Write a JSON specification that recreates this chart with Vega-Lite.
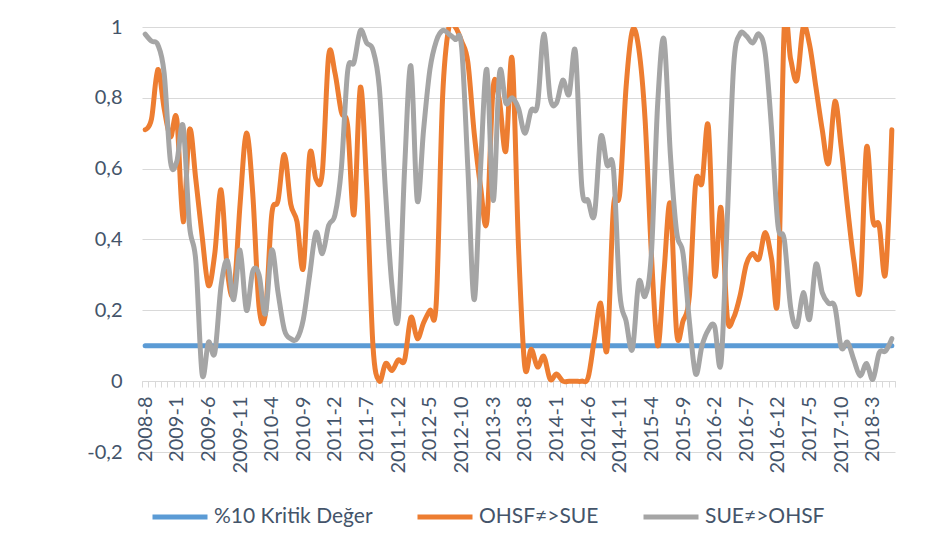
{
"$schema": "https://vega.github.io/schema/vega-lite/v6.json",
"width": 753, "height": 425,
"autosize": {"type": "none"},
"padding": {"left": 142, "top": 27, "right": 34, "bottom": 103},
"background": "white",
"config": {"view": {"stroke": null}, "font": "Lato"},
"data": {"values": [
{"d":"2008-8","kritik":0.1,"ohsf":0.71,"sue":0.98},
{"d":"2008-9","kritik":0.1,"ohsf":0.74,"sue":0.96},
{"d":"2008-10","kritik":0.1,"ohsf":0.88,"sue":0.95},
{"d":"2008-11","kritik":0.1,"ohsf":0.77,"sue":0.87},
{"d":"2008-12","kritik":0.1,"ohsf":0.69,"sue":0.62},
{"d":"2009-1","kritik":0.1,"ohsf":0.74,"sue":0.62},
{"d":"2009-2","kritik":0.1,"ohsf":0.45,"sue":0.72},
{"d":"2009-3","kritik":0.1,"ohsf":0.71,"sue":0.44},
{"d":"2009-4","kritik":0.1,"ohsf":0.57,"sue":0.34},
{"d":"2009-5","kritik":0.1,"ohsf":0.41,"sue":0.02},
{"d":"2009-6","kritik":0.1,"ohsf":0.27,"sue":0.11},
{"d":"2009-7","kritik":0.1,"ohsf":0.36,"sue":0.08},
{"d":"2009-8","kritik":0.1,"ohsf":0.54,"sue":0.27},
{"d":"2009-9","kritik":0.1,"ohsf":0.31,"sue":0.34},
{"d":"2009-10","kritik":0.1,"ohsf":0.25,"sue":0.23},
{"d":"2009-11","kritik":0.1,"ohsf":0.50,"sue":0.37},
{"d":"2009-12","kritik":0.1,"ohsf":0.70,"sue":0.20},
{"d":"2010-1","kritik":0.1,"ohsf":0.53,"sue":0.31},
{"d":"2010-2","kritik":0.1,"ohsf":0.21,"sue":0.30},
{"d":"2010-3","kritik":0.1,"ohsf":0.19,"sue":0.19},
{"d":"2010-4","kritik":0.1,"ohsf":0.47,"sue":0.37},
{"d":"2010-5","kritik":0.1,"ohsf":0.51,"sue":0.25},
{"d":"2010-6","kritik":0.1,"ohsf":0.64,"sue":0.145},
{"d":"2010-7","kritik":0.1,"ohsf":0.50,"sue":0.12},
{"d":"2010-8","kritik":0.1,"ohsf":0.45,"sue":0.12},
{"d":"2010-9","kritik":0.1,"ohsf":0.32,"sue":0.175},
{"d":"2010-10","kritik":0.1,"ohsf":0.64,"sue":0.30},
{"d":"2010-11","kritik":0.1,"ohsf":0.57,"sue":0.42},
{"d":"2010-12","kritik":0.1,"ohsf":0.59,"sue":0.36},
{"d":"2011-1","kritik":0.1,"ohsf":0.92,"sue":0.44},
{"d":"2011-2","kritik":0.1,"ohsf":0.87,"sue":0.47},
{"d":"2011-3","kritik":0.1,"ohsf":0.76,"sue":0.60},
{"d":"2011-4","kritik":0.1,"ohsf":0.72,"sue":0.875},
{"d":"2011-5","kritik":0.1,"ohsf":0.47,"sue":0.90},
{"d":"2011-6","kritik":0.1,"ohsf":0.83,"sue":0.99},
{"d":"2011-7","kritik":0.1,"ohsf":0.55,"sue":0.955},
{"d":"2011-8","kritik":0.1,"ohsf":0.10,"sue":0.935},
{"d":"2011-9","kritik":0.1,"ohsf":0.00,"sue":0.83},
{"d":"2011-10","kritik":0.1,"ohsf":0.05,"sue":0.53},
{"d":"2011-11","kritik":0.1,"ohsf":0.03,"sue":0.27},
{"d":"2011-12","kritik":0.1,"ohsf":0.06,"sue":0.18},
{"d":"2012-1","kritik":0.1,"ohsf":0.06,"sue":0.60},
{"d":"2012-2","kritik":0.1,"ohsf":0.18,"sue":0.89},
{"d":"2012-3","kritik":0.1,"ohsf":0.12,"sue":0.51},
{"d":"2012-4","kritik":0.1,"ohsf":0.165,"sue":0.71},
{"d":"2012-5","kritik":0.1,"ohsf":0.20,"sue":0.88},
{"d":"2012-6","kritik":0.1,"ohsf":0.22,"sue":0.96},
{"d":"2012-7","kritik":0.1,"ohsf":0.80,"sue":0.99},
{"d":"2012-8","kritik":0.1,"ohsf":1.0,"sue":0.98},
{"d":"2012-9","kritik":0.1,"ohsf":1.0,"sue":0.965},
{"d":"2012-10","kritik":0.1,"ohsf":0.96,"sue":0.945},
{"d":"2012-11","kritik":0.1,"ohsf":0.90,"sue":0.60},
{"d":"2012-12","kritik":0.1,"ohsf":0.70,"sue":0.23},
{"d":"2013-1","kritik":0.1,"ohsf":0.55,"sue":0.60},
{"d":"2013-2","kritik":0.1,"ohsf":0.45,"sue":0.88},
{"d":"2013-3","kritik":0.1,"ohsf":0.83,"sue":0.51},
{"d":"2013-4","kritik":0.1,"ohsf":0.79,"sue":0.87},
{"d":"2013-5","kritik":0.1,"ohsf":0.65,"sue":0.785},
{"d":"2013-6","kritik":0.1,"ohsf":0.91,"sue":0.80},
{"d":"2013-7","kritik":0.1,"ohsf":0.38,"sue":0.77},
{"d":"2013-8","kritik":0.1,"ohsf":0.04,"sue":0.70},
{"d":"2013-9","kritik":0.1,"ohsf":0.09,"sue":0.765},
{"d":"2013-10","kritik":0.1,"ohsf":0.04,"sue":0.78},
{"d":"2013-11","kritik":0.1,"ohsf":0.07,"sue":0.98},
{"d":"2013-12","kritik":0.1,"ohsf":0.005,"sue":0.80},
{"d":"2014-1","kritik":0.1,"ohsf":0.02,"sue":0.785},
{"d":"2014-2","kritik":0.1,"ohsf":0.0,"sue":0.85},
{"d":"2014-3","kritik":0.1,"ohsf":0.0,"sue":0.81},
{"d":"2014-4","kritik":0.1,"ohsf":0.0,"sue":0.93},
{"d":"2014-5","kritik":0.1,"ohsf":0.0,"sue":0.55},
{"d":"2014-6","kritik":0.1,"ohsf":0.01,"sue":0.51},
{"d":"2014-7","kritik":0.1,"ohsf":0.12,"sue":0.47},
{"d":"2014-8","kritik":0.1,"ohsf":0.22,"sue":0.69},
{"d":"2014-9","kritik":0.1,"ohsf":0.09,"sue":0.61},
{"d":"2014-10","kritik":0.1,"ohsf":0.49,"sue":0.60},
{"d":"2014-11","kritik":0.1,"ohsf":0.53,"sue":0.25},
{"d":"2014-12","kritik":0.1,"ohsf":0.83,"sue":0.17},
{"d":"2015-1","kritik":0.1,"ohsf":0.99,"sue":0.09},
{"d":"2015-2","kritik":0.1,"ohsf":0.94,"sue":0.28},
{"d":"2015-3","kritik":0.1,"ohsf":0.74,"sue":0.24},
{"d":"2015-4","kritik":0.1,"ohsf":0.36,"sue":0.36},
{"d":"2015-5","kritik":0.1,"ohsf":0.10,"sue":0.785},
{"d":"2015-6","kritik":0.1,"ohsf":0.31,"sue":0.965},
{"d":"2015-7","kritik":0.1,"ohsf":0.50,"sue":0.64},
{"d":"2015-8","kritik":0.1,"ohsf":0.135,"sue":0.42},
{"d":"2015-9","kritik":0.1,"ohsf":0.17,"sue":0.36},
{"d":"2015-10","kritik":0.1,"ohsf":0.24,"sue":0.17},
{"d":"2015-11","kritik":0.1,"ohsf":0.56,"sue":0.02},
{"d":"2015-12","kritik":0.1,"ohsf":0.56,"sue":0.10},
{"d":"2016-1","kritik":0.1,"ohsf":0.72,"sue":0.145},
{"d":"2016-2","kritik":0.1,"ohsf":0.30,"sue":0.155},
{"d":"2016-3","kritik":0.1,"ohsf":0.49,"sue":0.05},
{"d":"2016-4","kritik":0.1,"ohsf":0.18,"sue":0.46},
{"d":"2016-5","kritik":0.1,"ohsf":0.18,"sue":0.89},
{"d":"2016-6","kritik":0.1,"ohsf":0.24,"sue":0.98},
{"d":"2016-7","kritik":0.1,"ohsf":0.33,"sue":0.975},
{"d":"2016-8","kritik":0.1,"ohsf":0.36,"sue":0.955},
{"d":"2016-9","kritik":0.1,"ohsf":0.345,"sue":0.98},
{"d":"2016-10","kritik":0.1,"ohsf":0.42,"sue":0.925},
{"d":"2016-11","kritik":0.1,"ohsf":0.345,"sue":0.71},
{"d":"2016-12","kritik":0.1,"ohsf":0.24,"sue":0.44},
{"d":"2017-1","kritik":0.1,"ohsf":1.0,"sue":0.40},
{"d":"2017-2","kritik":0.1,"ohsf":0.91,"sue":0.21},
{"d":"2017-3","kritik":0.1,"ohsf":0.85,"sue":0.155},
{"d":"2017-4","kritik":0.1,"ohsf":1.0,"sue":0.25},
{"d":"2017-5","kritik":0.1,"ohsf":0.95,"sue":0.175},
{"d":"2017-6","kritik":0.1,"ohsf":0.83,"sue":0.33},
{"d":"2017-7","kritik":0.1,"ohsf":0.71,"sue":0.25},
{"d":"2017-8","kritik":0.1,"ohsf":0.615,"sue":0.22},
{"d":"2017-9","kritik":0.1,"ohsf":0.79,"sue":0.21},
{"d":"2017-10","kritik":0.1,"ohsf":0.66,"sue":0.095},
{"d":"2017-11","kritik":0.1,"ohsf":0.49,"sue":0.11},
{"d":"2017-12","kritik":0.1,"ohsf":0.34,"sue":0.06},
{"d":"2018-1","kritik":0.1,"ohsf":0.26,"sue":0.015},
{"d":"2018-2","kritik":0.1,"ohsf":0.66,"sue":0.05},
{"d":"2018-3","kritik":0.1,"ohsf":0.455,"sue":0.005},
{"d":"2018-4","kritik":0.1,"ohsf":0.44,"sue":0.08},
{"d":"2018-5","kritik":0.1,"ohsf":0.305,"sue":0.085},
{"d":"2018-6","kritik":0.1,"ohsf":0.71,"sue":0.12}
]},
"transform": [{"fold": ["kritik", "ohsf", "sue"], "as": ["seri", "deger"]}],
"mark": {"type": "line", "interpolate": "cardinal", "strokeWidth": 5, "strokeCap": "round", "strokeJoin": "round", "clip": true},
"encoding": {
  "x": {"field": "d", "type": "ordinal", "sort": null,
    "scale": {"type": "band", "paddingInner": 0, "paddingOuter": 0},
    "axis": {"title": null, "offset": -71, "tickBand": "extent", "tickSize": 6, "tickColor": "#D9D9D9", "domainColor": "#D9D9D9", "domainWidth": 1, "labelAngle": -90, "labelPadding": 9, "labelFontSize": 20, "labelColor": "#44546A", "labelOverlap": false, "grid": false,
      "labelExpr": "((toNumber(split(datum.value,'-')[0])-2008)*12+toNumber(split(datum.value,'-')[1])-8)%5==0 ? datum.value : ''"}},
  "y": {"field": "deger", "type": "quantitative",
    "scale": {"domain": [-0.2, 1], "nice": false, "zero": false},
    "axis": {"title": null, "values": [-0.2, 0, 0.2, 0.4, 0.6, 0.8, 1], "domain": false, "ticks": false, "gridColor": "#D9D9D9", "gridWidth": 1, "labelPadding": 20, "labelFontSize": 20, "labelColor": "#44546A",
      "labelExpr": "replace(replace(format(datum.value,'.1~f'),'.',','),'\u2212','-')"}},
  "color": {"field": "seri", "type": "nominal",
    "scale": {"domain": ["kritik", "ohsf", "sue"], "range": ["#5B9BD5", "#ED7D31", "#A5A5A5"]},
    "legend": {"orient": "none", "legendX": 8, "legendY": 460, "direction": "horizontal", "title": null, "symbolType": "stroke", "symbolSize": 3025, "symbolStrokeWidth": 5, "labelFontSize": 21, "labelColor": "#44546A", "labelOffset": 4, "columnPadding": 34, "labelLimit": 400,
      "labelExpr": "datum.value=='kritik' ? '%10 Kritik Değer' : datum.value=='ohsf' ? 'OHSF≠>SUE' : 'SUE≠>OHSF'"}}
}
}
